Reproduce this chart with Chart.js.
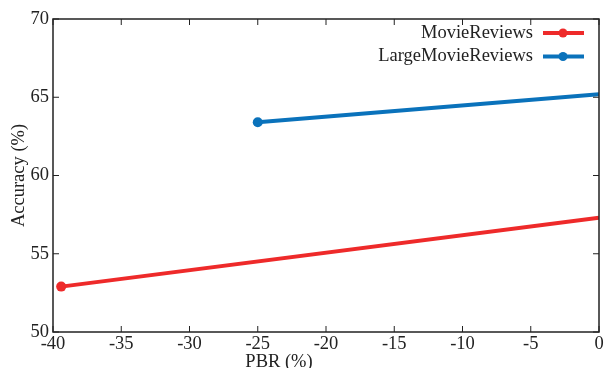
<!DOCTYPE html>
<html lang="en">
<head>
  <meta charset="UTF-8" />
  <title>PBR vs Accuracy</title>
  <script src="https://cdn.jsdelivr.net/npm/chart.js"></script>
  <style>
    html, body { margin: 0; padding: 0; background: #fff; }
    #wrap { width: 611px; height: 368px; }
  </style>
</head>
<body>
  <div id="wrap"><canvas id="accChart"></canvas></div>

  <script>
    // data
    const seriesNames = ['MovieReviews', 'LargeMovieReviews'];
    const pbrMovie = [-39.4, 0];
    const accMovie = [52.9, 57.3];
    const pbrLarge = [-25, 0];
    const accLarge = [63.4, 65.2];
    const xTicks = [-40, -35, -30, -25, -20, -15, -10, -5, 0];
    const yTicks = [50, 55, 60, 65, 70];

    const serif = "'Liberation Serif', 'Times New Roman', serif";
    const fontSize = 18.5;
    const toPoints = (xs, ys) => xs.map((x, i) => ({ x: x, y: ys[i] }));

    // frame with inward ticks on all sides, plus the x axis title
    const framePlugin = {
      id: 'frame',
      afterDraw(chart) {
        const { ctx, chartArea: a, scales } = chart;
        ctx.save();
        ctx.strokeStyle = '#222';
        ctx.lineWidth = 1.5;
        ctx.strokeRect(a.left, a.top, a.right - a.left, a.bottom - a.top);
        ctx.lineWidth = 1;
        const len = 6;
        ctx.beginPath();
        xTicks.forEach(v => {
          const px = scales.x.getPixelForValue(v);
          ctx.moveTo(px, a.bottom); ctx.lineTo(px, a.bottom - len);
          ctx.moveTo(px, a.top); ctx.lineTo(px, a.top + len);
        });
        yTicks.forEach(v => {
          const py = scales.y.getPixelForValue(v);
          ctx.moveTo(a.left, py); ctx.lineTo(a.left + len, py);
          ctx.moveTo(a.right, py); ctx.lineTo(a.right - len, py);
        });
        ctx.stroke();

        // x title sits left of centre in the original
        ctx.fillStyle = '#222';
        ctx.font = fontSize + 'px ' + serif;
        ctx.textAlign = 'center';
        ctx.textBaseline = 'middle';
        ctx.fillText('PBR (%)', (a.left + a.right) / 2 - 47, a.bottom + 30);
        ctx.restore();
      }
    };

    // legend in the top right corner, text first then the line sample
    const legendPlugin = {
      id: 'cornerLegend',
      afterDatasetsDraw(chart) {
        const { ctx, chartArea: a } = chart;
        ctx.save();
        ctx.font = fontSize + 'px ' + serif;
        ctx.textAlign = 'right';
        ctx.textBaseline = 'middle';
        chart.data.datasets.forEach((ds, i) => {
          const y = a.top + 14 + i * 23.5;
          ctx.fillStyle = '#222';
          ctx.fillText(ds.label, a.right - 66, y);
          ctx.strokeStyle = ds.borderColor;
          ctx.lineWidth = 4;
          ctx.beginPath();
          ctx.moveTo(a.right - 56, y);
          ctx.lineTo(a.right - 15, y);
          ctx.stroke();
          ctx.fillStyle = ds.borderColor;
          ctx.beginPath();
          ctx.arc(a.right - 36, y, 4.5, 0, Math.PI * 2);
          ctx.fill();
        });
        ctx.restore();
      }
    };

    const ctx = document.getElementById('accChart').getContext('2d');
    new Chart(ctx, {
      type: 'scatter',
      data: {
        datasets: [
          {
            label: seriesNames[0],
            data: toPoints(pbrMovie, accMovie),
            showLine: true,
            borderColor: '#ee2a2a',
            backgroundColor: '#ee2a2a',
            borderWidth: 4,
            pointBorderWidth: 0,
            pointRadius: [5, 0],
            pointHoverRadius: [5, 0]
          },
          {
            label: seriesNames[1],
            data: toPoints(pbrLarge, accLarge),
            showLine: true,
            borderColor: '#0a72bb',
            backgroundColor: '#0a72bb',
            borderWidth: 4,
            pointBorderWidth: 0,
            pointRadius: [5, 0],
            pointHoverRadius: [5, 0]
          }
        ]
      },
      options: {
        responsive: true,
        maintainAspectRatio: false,
        animation: false,
        layout: { padding: { top: 19, right: 12, left: 0, bottom: 0 } },
        plugins: {
          legend: { display: false },
          tooltip: { enabled: false }
        },
        scales: {
          x: {
            type: 'linear',
            min: -40,
            max: 0,
            afterFit(scale) { scale.height = 36; },
            afterBuildTicks(scale) { scale.ticks = xTicks.map(v => ({ value: v })); },
            grid: { display: false, drawTicks: false },
            border: { display: false },
            ticks: {
              color: '#222',
              padding: 1,
              maxRotation: 0,
              font: { family: serif, size: fontSize }
            }
          },
          y: {
            min: 50,
            max: 70,
            afterFit(scale) { scale.width = 53; },
            afterBuildTicks(scale) { scale.ticks = yTicks.map(v => ({ value: v })); },
            grid: { display: false, drawTicks: false },
            border: { display: false },
            ticks: {
              color: '#222',
              padding: 4,
              font: { family: serif, size: fontSize }
            },
            title: {
              display: true,
              text: 'Accuracy (%)',
              color: '#222',
              padding: { top: 8, bottom: 0 },
              font: { family: serif, size: fontSize }
            }
          }
        }
      },
      plugins: [framePlugin, legendPlugin]
    });
  </script>
</body>
</html>
